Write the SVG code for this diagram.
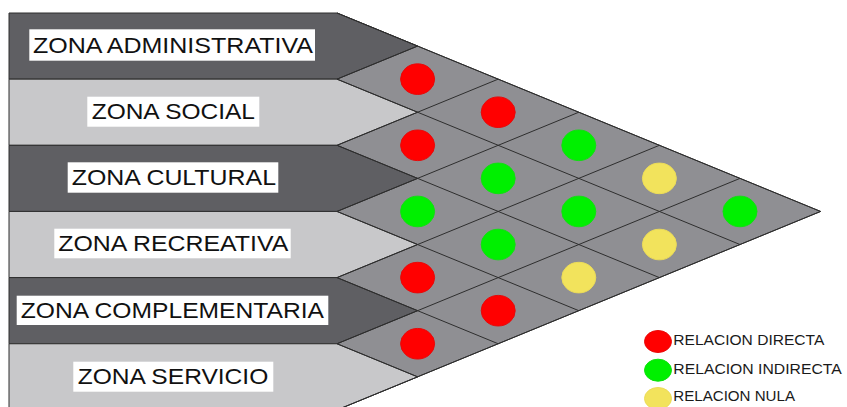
<svg xmlns="http://www.w3.org/2000/svg" width="847" height="407" viewBox="0 0 847 407">
<style>
.bg{fill:#ffffff}
.tri{fill:#8f8f93;stroke:#2e2e2e;stroke-width:1}
.dark{fill:#5f5f63;stroke:#2e2e2e;stroke-width:1}
.light{fill:#c8c8ca;stroke:#2e2e2e;stroke-width:1}
.box{fill:#ffffff}
.lbl{font-family:"Liberation Sans",Arial,sans-serif;font-size:22px;fill:#111111}
.leg{font-family:"Liberation Sans",Arial,sans-serif;font-size:14px;fill:#1a1a1a}
.grid line{stroke:#2e2e2e;stroke-width:1}
.r{fill:#ff0000;stroke:#e80808;stroke-width:1}
.g{fill:#00f000;stroke:#10e010;stroke-width:1}
.y{fill:#f2e35c;stroke:#ecdc58;stroke-width:1}
</style>
<rect class="bg" x="0" y="0" width="847" height="407"/>
<polygon class="tri" points="337,13 820.6,211.45 337,409.9"/>
<g id="zona-administrativa">
<polygon class="dark" points="9,13 337,13 417.6,46.08 337,79.15 9,79.15"/>
<rect class="box" x="29.3" y="29.3" width="285.7" height="31.4"/>
<text class="lbl" x="33" y="53.3" textLength="280" lengthAdjust="spacingAndGlyphs">ZONA ADMINISTRATIVA</text>
</g>
<g id="zona-social">
<polygon class="light" points="9,79.15 337,79.15 417.6,112.23 337,145.3 9,145.3"/>
<rect class="box" x="87.3" y="96.7" width="172" height="30"/>
<text class="lbl" x="91.7" y="119.3" textLength="163.3" lengthAdjust="spacingAndGlyphs">ZONA SOCIAL</text>
</g>
<g id="zona-cultural">
<polygon class="dark" points="9,145.3 337,145.3 417.6,178.38 337,211.45 9,211.45"/>
<rect class="box" x="67.7" y="162.3" width="210.6" height="30.4"/>
<text class="lbl" x="71.7" y="185" textLength="204.3" lengthAdjust="spacingAndGlyphs">ZONA CULTURAL</text>
</g>
<g id="zona-recreativa">
<polygon class="light" points="9,211.45 337,211.45 417.6,244.53 337,277.6 9,277.6"/>
<rect class="box" x="54.3" y="228.7" width="236.4" height="29.6"/>
<text class="lbl" x="58.3" y="250.7" textLength="230" lengthAdjust="spacingAndGlyphs">ZONA RECREATIVA</text>
</g>
<g id="zona-complementaria">
<polygon class="dark" points="9,277.6 337,277.6 417.6,310.68 337,343.75 9,343.75"/>
<rect class="box" x="16.7" y="295.7" width="311.6" height="29.3"/>
<text class="lbl" x="20.7" y="318.3" textLength="303.3" lengthAdjust="spacingAndGlyphs">ZONA COMPLEMENTARIA</text>
</g>
<g id="zona-servicio">
<polygon class="light" points="9,343.75 337,343.75 417.6,376.83 337,409.9 9,409.9"/>
<rect class="box" x="73.3" y="361.7" width="200" height="30"/>
<text class="lbl" x="77.7" y="384.3" textLength="190.6" lengthAdjust="spacingAndGlyphs">ZONA SERVICIO</text>
</g>
<g id="connectors" class="grid">
<line x1="337" y1="79.15" x2="740" y2="244.53"/>
<line x1="337" y1="145.3" x2="659.4" y2="277.6"/>
<line x1="337" y1="211.45" x2="578.8" y2="310.68"/>
<line x1="337" y1="277.6" x2="498.2" y2="343.75"/>
<line x1="337" y1="343.75" x2="417.6" y2="376.83"/>
<line x1="337" y1="79.15" x2="417.6" y2="46.08"/>
<line x1="337" y1="145.3" x2="498.2" y2="79.15"/>
<line x1="337" y1="211.45" x2="578.8" y2="112.23"/>
<line x1="337" y1="277.6" x2="659.4" y2="145.3"/>
<line x1="337" y1="343.75" x2="740" y2="178.38"/>
<line x1="337" y1="13" x2="820.6" y2="211.45"/>
<line x1="820.6" y1="211.45" x2="337" y2="409.9"/>
</g>
<g id="relaciones">
<ellipse class="r" cx="417.6" cy="79.15" rx="17" ry="15.3"/>
<ellipse class="r" cx="498.2" cy="112.23" rx="17" ry="15.3"/>
<ellipse class="r" cx="417.6" cy="145.3" rx="17" ry="15.3"/>
<ellipse class="g" cx="578.8" cy="145.3" rx="17" ry="15.3"/>
<ellipse class="g" cx="498.2" cy="178.38" rx="17" ry="15.3"/>
<ellipse class="y" cx="659.4" cy="178.38" rx="17" ry="15.3"/>
<ellipse class="g" cx="417.6" cy="211.45" rx="17" ry="15.3"/>
<ellipse class="g" cx="578.8" cy="211.45" rx="17" ry="15.3"/>
<ellipse class="g" cx="740" cy="211.45" rx="17" ry="15.3"/>
<ellipse class="g" cx="498.2" cy="244.53" rx="17" ry="15.3"/>
<ellipse class="y" cx="659.4" cy="244.53" rx="17" ry="15.3"/>
<ellipse class="r" cx="417.6" cy="277.6" rx="17" ry="15.3"/>
<ellipse class="y" cx="578.8" cy="277.6" rx="17" ry="15.3"/>
<ellipse class="r" cx="498.2" cy="310.68" rx="17" ry="15.3"/>
<ellipse class="r" cx="417.6" cy="343.75" rx="17" ry="15.3"/>
</g>
<g id="leyenda">
<ellipse class="r" cx="658" cy="341.5" rx="13.5" ry="11"/>
<text class="leg" x="673.3" y="345.2" textLength="151" lengthAdjust="spacingAndGlyphs">RELACION DIRECTA</text>
<ellipse class="g" cx="658" cy="370.2" rx="13.5" ry="11"/>
<text class="leg" x="673.3" y="373.5" textLength="168.4" lengthAdjust="spacingAndGlyphs">RELACION INDIRECTA</text>
<ellipse class="y" cx="658" cy="398.5" rx="13.5" ry="11"/>
<text class="leg" x="673.3" y="401.3" textLength="121.7" lengthAdjust="spacingAndGlyphs">RELACION NULA</text>
</g>
</svg>
